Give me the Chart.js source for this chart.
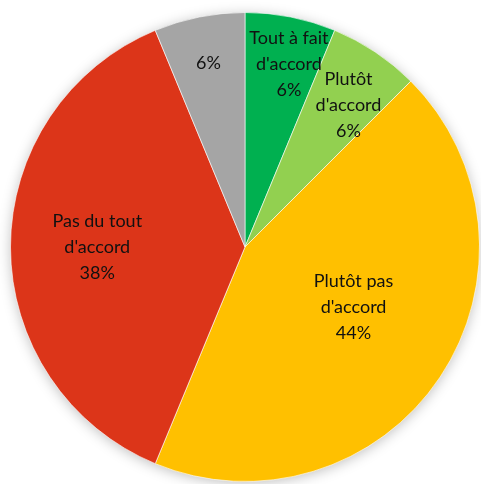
<!DOCTYPE html>
<html>
<head>
<meta charset="utf-8">
<script src="https://cdn.jsdelivr.net/npm/chart.js@4.4.1/dist/chart.umd.min.js"></script>
<style>
  html, body { margin: 0; padding: 0; background: #fff; }
  #wrap { width: 481px; height: 484px; }
</style>
</head>
<body>
<div id="wrap"><canvas id="pie" width="481" height="484"></canvas></div>
<script>
const categories = [
    ['Tout à fait', "d'accord"],
    ['Plutôt', "d'accord"],
    ['Plutôt pas', "d'accord"],
    ['Pas du tout', "d'accord"],
    []
];
// shares (labels show them rounded)
const values = [6.25, 6.25, 43.75, 37.5, 6.25];
const colors = ['#00B050', '#92D050', '#FFC000', '#DC3519', '#A5A5A5'];

// where each label sits, as a share of the radius (Excel "best fit" look)
const labelRadius = [0.80, 0.75, 0.53, 0.63, 0.80];
const labelAngleShift = [0.04, 0.04, -0.08, 0, 0];

const shadowPlugin = {
    id: 'shadow',
    beforeDatasetsDraw(chart) {
        const ctx = chart.ctx;
        const arc = chart.getDatasetMeta(0).data[0];
        if (!arc) return;
        ctx.save();
        ctx.shadowColor = 'rgba(0, 0, 0, 0.28)';
        ctx.shadowBlur = 14;
        ctx.shadowOffsetX = 0;
        ctx.shadowOffsetY = 2;
        ctx.fillStyle = '#fff';
        ctx.beginPath();
        ctx.arc(arc.x, arc.y, arc.outerRadius - 1, 0, Math.PI * 2);
        ctx.fill();
        ctx.restore();
    }
};

const labelPlugin = {
    id: 'sliceLabels',
    afterDatasetsDraw(chart) {
        const ctx = chart.ctx;
        const meta = chart.getDatasetMeta(0);
        ctx.save();
        ctx.font = '18px Lato, "Noto Sans", sans-serif';
        ctx.fillStyle = '#111';
        ctx.textAlign = 'center';
        ctx.textBaseline = 'middle';
        const lineH = 26;
        meta.data.forEach((arc, i) => {
            const p = arc.getProps(['x', 'y', 'startAngle', 'endAngle', 'outerRadius']);
            const mid = (p.startAngle + p.endAngle) / 2 + labelAngleShift[i];
            const r = p.outerRadius * labelRadius[i];
            const cx = p.x + Math.cos(mid) * r;
            const cy = p.y + Math.sin(mid) * r;
            const lines = categories[i].concat([Math.round(values[i]) + '%']);
            const top = cy - (lines.length - 1) * lineH / 2;
            lines.forEach((t, k) => ctx.fillText(t, cx, top + k * lineH));
        });
        ctx.restore();
    }
};

const ctx = document.getElementById('pie').getContext('2d');
const chart = new Chart(ctx, {
    type: 'pie',
    data: {
        labels: categories.map(c => c.join(' ')),
        datasets: [{
            data: values,
            backgroundColor: colors,
            borderColor: 'rgba(255, 255, 255, 0.6)',
            borderWidth: 1
        }]
    },
    options: {
        responsive: false,
        animation: false,
        layout: {
            padding: { left: 10, right: 1, top: 12, bottom: 2 }
        },
        plugins: {
            legend: { display: false },
            tooltip: { enabled: false }
        }
    },
    plugins: [shadowPlugin, labelPlugin]
});
</script>
</body>
</html>
